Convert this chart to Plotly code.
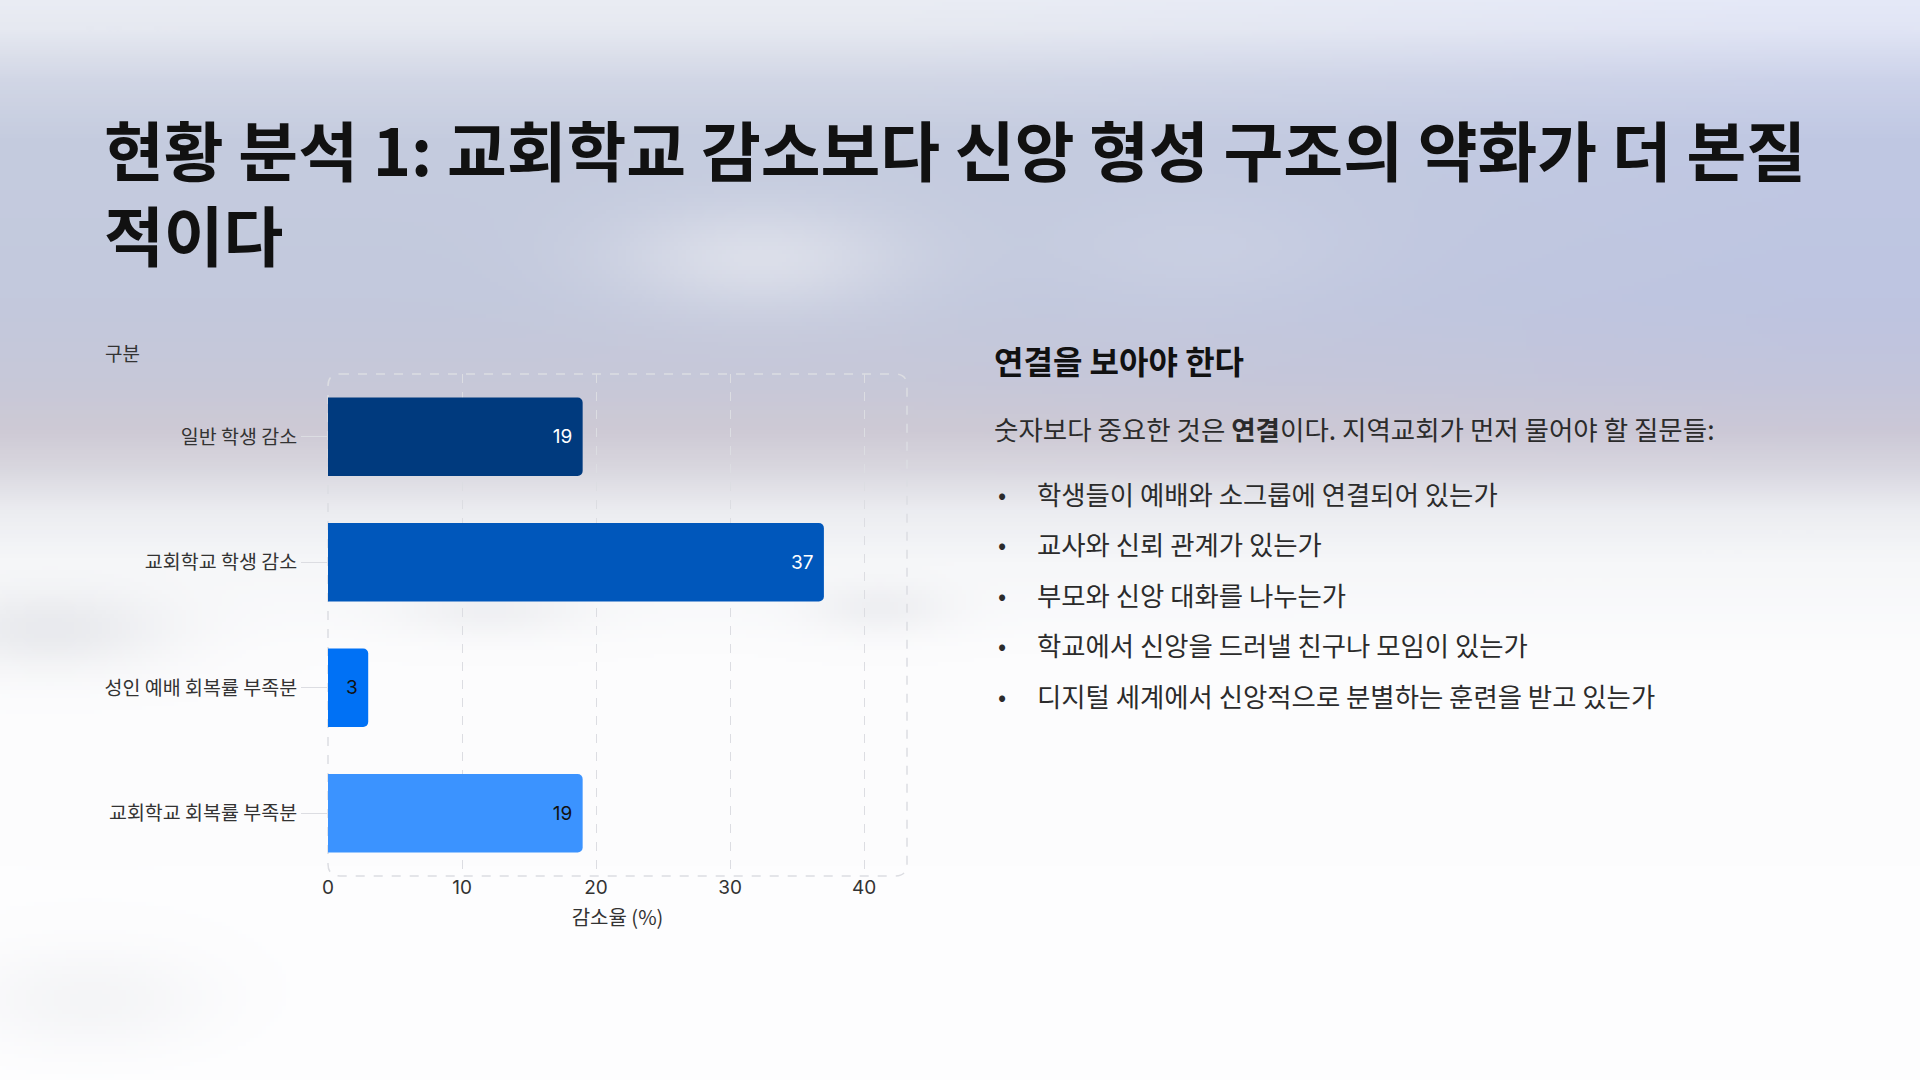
import base64, struct, zlib
import numpy as np
import plotly.graph_objects as go

# ---------------- data ----------------
categories = ["일반 학생 감소", "교회학교 학생 감소", "성인 예배 회복률 부족분", "교회학교 회복률 부족분"]
values = [19, 37, 3, 19]
bar_colors = ["#003A7E", "#0057BB", "#0071F5", "#3B93FF"]
label_colors = ["#ffffff", "#ffffff", "#111111", "#111111"]
x_ticks = [0, 10, 20, 30, 40]
x_title = "감소율 (%)"
y_title = "구분"
title_text = "현황 분석 1: 교회학교 감소보다 신앙 형성 구조의 약화가 더 본질<br>적이다"
side_heading = "연결을 보아야 한다"
side_intro = "숫자보다 중요한 것은 <b>연결</b>이다. 지역교회가 먼저 물어야 할 질문들:"
side_bullets = [
    "학생들이 예배와 소그룹에 연결되어 있는가",
    "교사와 신뢰 관계가 있는가",
    "부모와 신앙 대화를 나누는가",
    "학교에서 신앙을 드러낼 친구나 모임이 있는가",
    "디지털 세계에서 신앙적으로 분별하는 훈련을 받고 있는가",
]

W, H = 1920, 1080
KR = "Noto Sans CJK KR"
NUM = "Inter, Noto Sans CJK KR, sans-serif"


def X(px):
    return px / W


def Y(py):
    return 1 - py / H


# ---------------- background image (decoration) ----------------
def make_background():
    w, h = 480, 270
    s = W / w
    ys = (np.arange(h) + 0.5) * s
    xs = (np.arange(w) + 0.5) * s
    stops_y = [0, 30, 80, 140, 300, 380, 430, 470, 510, 560, 650, 1080]
    stops_c = np.array([
        (234, 237, 244), (230, 233, 241), (210, 215, 230), (197, 204, 223),
        (195, 201, 221), (199, 200, 217), (206, 202, 213), (218, 216, 224),
        (236, 237, 241), (246, 247, 249), (252, 252, 253), (254, 254, 255)], float)
    prof = np.stack([np.interp(ys, stops_y, stops_c[:, k]) for k in range(3)], axis=1)
    img = np.repeat(prof[:, None, :], w, axis=1)
    XX, YY = np.meshgrid(xs, ys)
    upper = np.clip((520 - YY) / 200, 0, 1) * np.clip((XX - 900) / 900, 0, 1)
    img[..., 0] -= 5 * upper
    img[..., 1] -= 4 * upper
    img[..., 2] += 4 * upper

    def blob(cx, cy, sx, sy, col, a):
        g = a * np.exp(-(((XX - cx) / sx) ** 2 + ((YY - cy) / sy) ** 2))
        for k in range(3):
            img[..., k] = img[..., k] * (1 - g) + col[k] * g

    blob(760, 258, 150, 55, (228, 230, 238), 0.75)
    blob(1200, 250, 160, 60, (214, 218, 232), 0.35)
    blob(50, 630, 120, 40, (216, 218, 224), 0.5)
    blob(490, 610, 90, 25, (228, 229, 233), 0.45)
    blob(880, 608, 70, 25, (226, 227, 232), 0.45)
    blob(90, 1000, 120, 50, (236, 237, 240), 0.5)
    img = np.clip(img, 0, 255).astype(np.uint8)
    raw = b"".join(b"\x00" + img[r].tobytes() for r in range(h))

    def chunk(t, d):
        c = struct.pack(">I", len(d)) + t + d
        return c + struct.pack(">I", zlib.crc32(t + d) & 0xFFFFFFFF)

    png = b"\x89PNG\r\n\x1a\n" + chunk(b"IHDR", struct.pack(">IIBBBBB", w, h, 8, 2, 0, 0, 0)) \
        + chunk(b"IDAT", zlib.compress(raw, 9)) + chunk(b"IEND", b"")
    return "data:image/png;base64," + base64.b64encode(png).decode()


# ---------------- figure ----------------
PX0, PX1, PY0, PY1 = 328, 907, 374, 876

fig = go.Figure()
fig.add_trace(go.Bar(
    y=categories, x=values, orientation="h",
    marker=dict(color=bar_colors, line=dict(width=0)),
    text=values, texttemplate="%{x}&nbsp;", textposition="inside", insidetextanchor="end",
    textfont=dict(color=label_colors, size=19, family=NUM),
    constraintext="none", hoverinfo="skip", showlegend=False,
))

fig.update_layout(
    width=W, height=H, autosize=False,
    margin=dict(l=0, r=0, t=0, b=0, pad=0, autoexpand=False),
    paper_bgcolor="#ffffff", plot_bgcolor="rgba(0,0,0,0)",
    bargap=0.376, barcornerradius=5,
    font=dict(family=KR, color="#333333"),
    xaxis=dict(
        domain=[X(PX0), X(PX1)], range=[0, 43.2], tickvals=x_ticks, automargin=False,
        showgrid=True, gridcolor="#dcdde2", griddash="dash", gridwidth=1,
        zeroline=False, showline=False, ticks="", ticklabelstandoff=-2,
        tickfont=dict(size=19, family=NUM, color="#333333"),
        title=dict(text=x_title, font=dict(size=20, family=KR, color="#333333"), standoff=12),
    ),
    yaxis=dict(
        domain=[Y(PY1), Y(PY0)], autorange="reversed", automargin=False,
        showgrid=False, zeroline=False, showline=False,
        ticks="outside", ticklen=26, tickcolor="#dcdde2", tickwidth=1,
        tickfont=dict(size=19.5, family=KR, color="#333333"),
    ),
    images=[dict(source=make_background(), xref="paper", yref="paper", x=0, y=1,
                 sizex=1, sizey=1, xanchor="left", yanchor="top", sizing="stretch", layer="below")],
)

# dashed rounded border of plot area
r = 12
x0, x1, y0, y1 = PX0, PX1, PY0, PY1
path = (f"M {X(x0 + r)},{Y(y0)} L {X(x1 - r)},{Y(y0)} Q {X(x1)},{Y(y0)} {X(x1)},{Y(y0 + r)} "
        f"L {X(x1)},{Y(y1 - r)} Q {X(x1)},{Y(y1)} {X(x1 - r)},{Y(y1)} "
        f"L {X(x0 + r)},{Y(y1)} Q {X(x0)},{Y(y1)} {X(x0)},{Y(y1 - r)} "
        f"L {X(x0)},{Y(y0 + r)} Q {X(x0)},{Y(y0)} {X(x0 + r)},{Y(y0)} Z")
fig.add_shape(type="path", path=path, xref="paper", yref="paper",
              line=dict(color="#dcdde2", width=1.5, dash="dash"), layer="below")

ann = []
ann.append(dict(text=title_text, x=X(102), y=Y(99), xanchor="left", yanchor="top", align="left",
                font=dict(size=65, family=KR, color="#111111", weight=700)))
ann.append(dict(text=y_title, x=X(103), y=Y(352), xanchor="left", yanchor="middle",
                font=dict(size=19, family=KR, color="#333333")))
ann.append(dict(text=side_heading, x=X(992), y=Y(360), xanchor="left", yanchor="middle",
                font=dict(size=32, family=KR, color="#111111", weight=700)))
ann.append(dict(text=side_intro, x=X(992), y=Y(429), xanchor="left", yanchor="middle",
                font=dict(size=26.5, family=KR, color="#2b2b2b")))
for i, b in enumerate(side_bullets):
    yy = 493 + 50.5 * i
    ann.append(dict(text="•", x=X(1002), y=Y(yy), xanchor="center", yanchor="middle",
                    font=dict(size=24, family=KR, color="#2b2b2b")))
    ann.append(dict(text=b, x=X(1035), y=Y(yy), xanchor="left", yanchor="middle",
                    font=dict(size=26.4, family=KR, color="#2b2b2b")))
for a in ann:
    a.update(xref="paper", yref="paper", showarrow=False)
fig.update_layout(annotations=ann)

post = ("document.body.style.margin='0';document.body.style.overflow='hidden';"
        "var d=document.querySelector('.plotly-graph-div');"
        "d.style.position='absolute';d.style.left='0px';d.style.top='0px';")
fig.write_html("out.html", config={"displayModeBar": False}, post_script=post)
